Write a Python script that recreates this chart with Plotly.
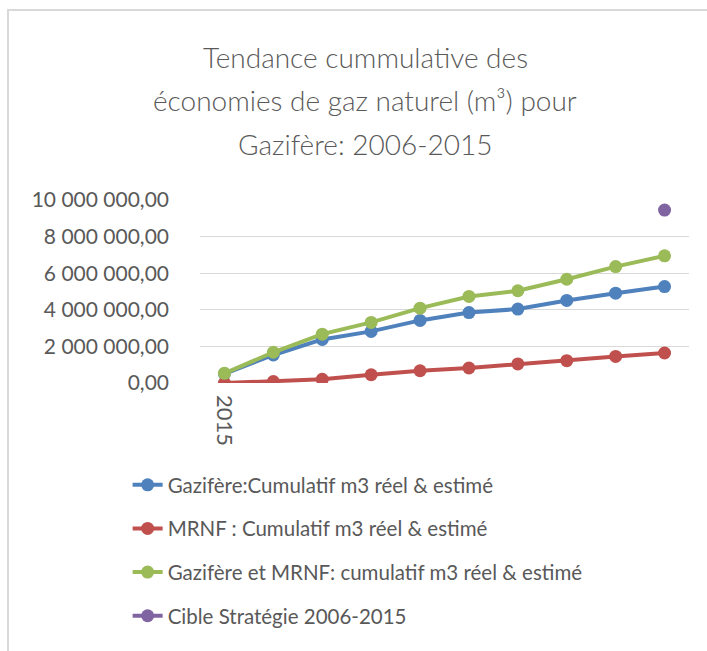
import plotly.graph_objects as go

years = ["2006", "2007", "2008", "2009", "2010", "2011", "2012", "2013", "2014", "2015"]
x_tick_labels = ["2015", "", "", "", "", "", "", "", "", ""]

gazifere = [500000, 1530000, 2380000, 2820000, 3420000, 3850000, 4040000, 4510000, 4910000, 5270000]
mrnf = [0, 80000, 200000, 450000, 670000, 820000, 1040000, 1220000, 1450000, 1640000]
total = [530000, 1680000, 2670000, 3310000, 4090000, 4730000, 5040000, 5670000, 6360000, 6950000]
cible = [None, None, None, None, None, None, None, None, None, 9450000]

names = [
    "Gazifère:Cumulatif m3 réel & estimé",
    "MRNF : Cumulatif m3 réel & estimé",
    "Gazifère et MRNF: cumulatif m3 réel & estimé",
    "Cible Stratégie 2006-2015",
]
colors = ["#4F81BD", "#C0504D", "#9BBB59", "#8064A2"]
series = [gazifere, mrnf, total, cible]

title_lines = [
    "Tendance cummulative des",
    "économies de gaz naturel (m³) pour",
    "Gazifère: 2006-2015",
]

FONT = "Lato"
GREY = "#595959"

fig = go.Figure()
for i, (nm, col, vals) in enumerate(zip(names, colors, series)):
    fig.add_trace(go.Scatter(
        x=years, y=vals, name=nm, mode="lines+markers",
        line=dict(color=col, width=4),
        marker=dict(color=col, size=13),
        legendgroup=f"g{i}",
    ))

fig.update_layout(
    width=707, height=651,
    paper_bgcolor="white", plot_bgcolor="white",
    margin=dict(l=200, r=18, t=200, b=268),
    separators=", ",
    font=dict(family=FONT, color=GREY),
    showlegend=True,
    legend=dict(
        orientation="v", x=-0.148, xanchor="left", y=-0.448, yanchor="top",
        font=dict(family=FONT, size=20.5, color=GREY),
        tracegroupgap=14, traceorder="grouped",
        bgcolor="rgba(0,0,0,0)",
    ),
)

fig.update_xaxes(
    type="category", range=[-0.5, 9.5],
    tickmode="array", tickvals=years, ticktext=x_tick_labels,
    tickangle=90, tickfont=dict(family=FONT, size=22, color=GREY),
    showgrid=False, zeroline=False, showline=False, ticks="",
    ticklabelstandoff=11,
)
fig.update_yaxes(
    range=[0, 10000000], dtick=2000000, tickformat=",.2f",
    tickfont=dict(family=FONT, size=21, color=GREY),
    showgrid=True, gridcolor="#D9D9D9", gridwidth=1.2,
    zeroline=False, showline=False, ticks="", ticklabelstandoff=30,
)

for k, line in enumerate(title_lines):
    fig.add_annotation(
        text=line, xref="paper", yref="paper",
        x=(365 - 200) / 489, y=(383 - (57 + 43.5 * k)) / 183,
        xanchor="center", yanchor="middle", showarrow=False,
        font=dict(family=FONT, size=28, color=GREY, weight=300),
    )

fig.add_shape(
    type="rect", xref="paper", yref="paper",
    x0=(8 - 200) / 489, x1=1.2, y0=-2.0, y1=(383 - 10) / 183,
    line=dict(color="#D9D9D9", width=2), fillcolor="rgba(0,0,0,0)", layer="below",
)

fig.write_html(
    "out.html",
    config={"displayModeBar": False},
    post_script="document.body.style.margin='0';document.body.style.overflow='hidden';",
)
